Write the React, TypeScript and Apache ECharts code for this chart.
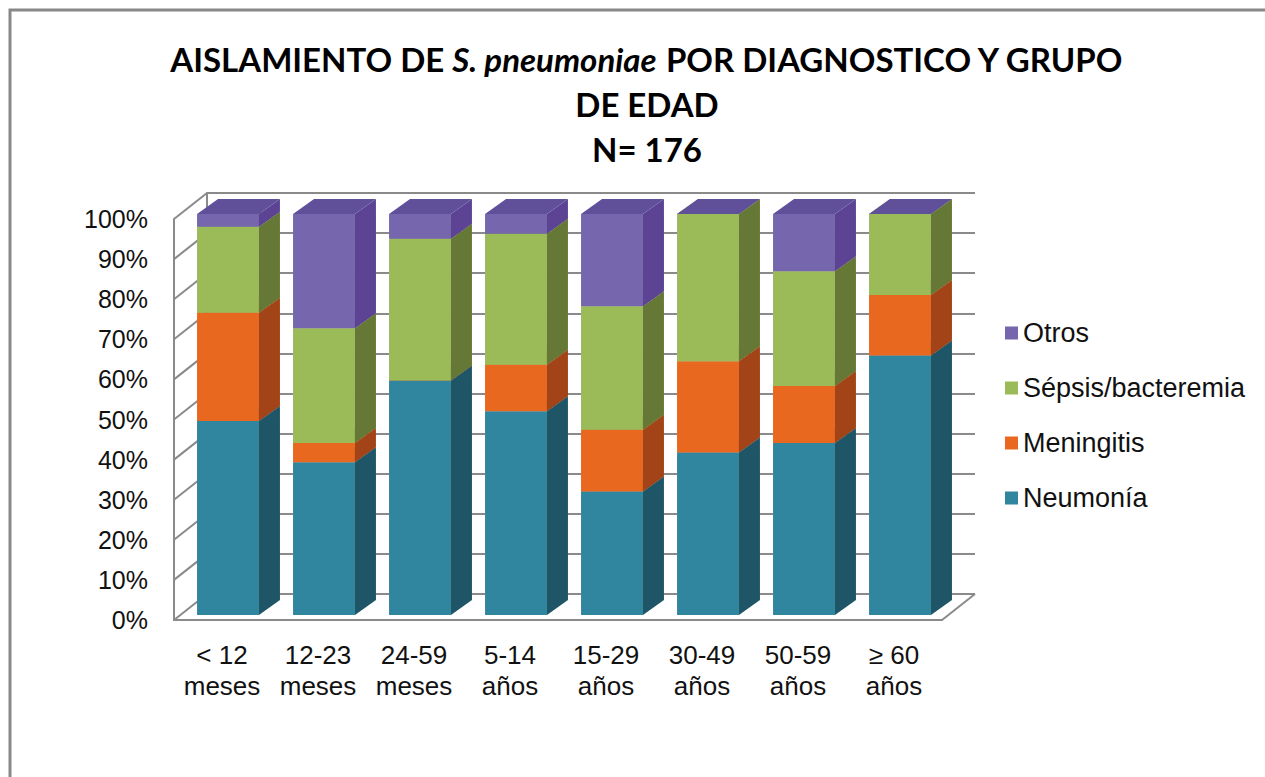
import React, { useEffect, useRef } from "react";
import * as echarts from "echarts";

const categories = ["< 12\nmeses", "12-23\nmeses", "24-59\nmeses", "5-14\naños", "15-29\naños", "30-49\naños", "50-59\naños", "≥ 60\naños"];
const neumonia = [48.4, 38.1, 58.5, 50.8, 30.8, 40.5, 42.9, 64.7];
const meningitis = [27.0, 4.8, 0, 11.6, 15.4, 22.8, 14.2, 15.1];
const sepsis = [21.4, 28.6, 35.3, 32.7, 30.8, 36.7, 28.6, 20.2];
const otros = [3.2, 28.5, 6.2, 4.9, 23.0, 0, 14.3, 0];
const yTicks = [0, 10, 20, 30, 40, 50, 60, 70, 80, 90, 100];

const seriesDefs = [
  { name: "Neumonía", values: neumonia, front: "#2F869E", side: "#1F5667", top: "#28758A" },
  { name: "Meningitis", values: meningitis, front: "#E9681F", side: "#A34418", top: "#C8591B" },
  { name: "Sépsis/bacteremia", values: sepsis, front: "#9BBB59", side: "#667836", top: "#83A04A" },
  { name: "Otros", values: otros, front: "#7566AD", side: "#5C4394", top: "#60509A" },
];

const BAR_FRAC = 0.645;
const OFF_X = 6;
const OFF_Y = -5;
const SIDE_DX = 21;
const SIDE_DY = -15;
const WALL_DX = 33;
const WALL_DY = -26;
const GRID_COLOR = "#8A8A8A";
const FONT = "'Liberation Sans', Arial, sans-serif";

export default function App() {
  const ref = useRef<HTMLDivElement>(null);
  useEffect(() => {
    if (!ref.current) return;
    const chart = echarts.init(ref.current, null, { renderer: "svg" });

    const stacked: any[] = [];
    const base = categories.map(() => 0);
    seriesDefs.forEach((s) => {
      const data = s.values.map((v, i) => {
        const lo = base[i];
        const hi = lo + v;
        base[i] = hi;
        return [i, lo, hi];
      });
      stacked.push({
        type: "custom",
        name: s.name,
        xAxisIndex: 0,
        yAxisIndex: 0,
        z: 3,
        itemStyle: { color: s.front },
        data,
        renderItem: (params: any, api: any) => {
          const ci = api.value(0);
          const lo = api.value(1);
          const hi = api.value(2);
          const pLo = api.coord([ci, lo]);
          const pHi = api.coord([ci, hi]);
          const bw = api.size([1, 0])[0] * BAR_FRAC;
          const x0 = pLo[0] - bw / 2 + OFF_X;
          const yb = pLo[1] + OFF_Y;
          const yt = pHi[1] + OFF_Y;
          const x1 = x0 + bw;
          return {
            type: "group",
            children: [
              {
                type: "rect",
                shape: { x: x0, y: yt, width: bw, height: yb - yt },
                style: { fill: s.front },
              },
              {
                type: "polygon",
                shape: { points: [[x1, yb], [x1 + SIDE_DX, yb + SIDE_DY], [x1 + SIDE_DX, yt + SIDE_DY], [x1, yt]] },
                style: { fill: s.side },
              },
              {
                type: "polygon",
                shape: { points: [[x0, yt], [x0 + SIDE_DX, yt + SIDE_DY], [x1 + SIDE_DX, yt + SIDE_DY], [x1, yt]] },
                style: { fill: s.top },
              },
            ],
          };
        },
      });
    });

    const wallSeries = {
      type: "custom",
      name: "wall",
      xAxisIndex: 0,
      yAxisIndex: 0,
      z: 1,
      silent: true,
      data: yTicks.map((t) => [0, t]),
      renderItem: (params: any, api: any) => {
        const p = api.coord([api.value(0), api.value(1)]);
        const half = api.size([1, 0])[0] / 2;
        const xl = p[0] - half;
        return {
          type: "line",
          shape: { x1: xl, y1: p[1], x2: xl + WALL_DX, y2: p[1] + WALL_DY },
          style: { stroke: GRID_COLOR, lineWidth: 2 },
        };
      },
    };

    const floorSeries = {
      type: "custom",
      name: "floor",
      xAxisIndex: 0,
      yAxisIndex: 0,
      z: 1,
      silent: true,
      data: [[categories.length - 1, 0]],
      renderItem: (params: any, api: any) => {
        const p = api.coord([api.value(0), api.value(1)]);
        const half = api.size([1, 0])[0] / 2;
        const xr = p[0] + half;
        return {
          type: "line",
          shape: { x1: xr, y1: p[1], x2: xr + WALL_DX, y2: p[1] + WALL_DY },
          style: { stroke: GRID_COLOR, lineWidth: 2 },
        };
      },
    };

    chart.setOption({
      animation: false,
      backgroundColor: "#ffffff",
      title: {
        left: 642,
        top: 31,
        textAlign: "center",
        text: "AISLAMIENTO DE {i|S. pneumoniae} POR DIAGNOSTICO Y GRUPO\nDE EDAD\nN= 176",
        textStyle: {
          fontFamily: "Lato, sans-serif",
          fontWeight: "bold",
          fontSize: 33,
          lineHeight: 45,
          color: "#000",
          rich: {
            i: {
              fontFamily: "Lato, sans-serif",
              fontWeight: "bold",
              fontStyle: "italic",
              fontSize: 33,
              lineHeight: 45,
              color: "#000",
            },
          },
        },
      },
      legend: {
        orient: "vertical",
        left: 1000,
        top: 314,
        itemWidth: 13,
        itemHeight: 13,
        itemGap: 27,
        icon: "rect",
        data: ["Otros", "Sépsis/bacteremia", "Meningitis", "Neumonía"],
        textStyle: { fontFamily: FONT, fontSize: 27, lineHeight: 28, color: "#111" },
        selectedMode: false,
      },
      graphic: [
        {
          type: "rect",
          shape: { x: 10, y: 10, width: 1400, height: 900 },
          style: { fill: "none", stroke: "#888888", lineWidth: 3 },
          silent: true,
        },
      ],
      grid: [
        { left: 174, right: 323, top: 219, bottom: 157 },
        { left: 207, right: 290, top: 193, bottom: 183 },
      ],
      xAxis: [
        {
          type: "category",
          gridIndex: 0,
          data: categories,
          axisLine: { show: true, lineStyle: { color: GRID_COLOR, width: 2 } },
          axisTick: { show: false },
          axisLabel: { fontFamily: FONT, fontSize: 26, lineHeight: 31, color: "#111", margin: 19, interval: 0 },
          splitLine: { show: false },
        },
        { type: "category", gridIndex: 1, data: categories, show: false },
      ],
      yAxis: [
        {
          type: "value",
          gridIndex: 0,
          min: 0,
          max: 100,
          interval: 10,
          axisLine: { show: true, lineStyle: { color: GRID_COLOR, width: 2 } },
          axisTick: { show: false },
          splitLine: { show: false },
          axisLabel: { formatter: "{value}%", fontFamily: FONT, fontSize: 25, color: "#111", margin: 26 },
        },
        {
          type: "value",
          gridIndex: 1,
          min: 0,
          max: 100,
          interval: 10,
          axisLine: { show: true, lineStyle: { color: GRID_COLOR, width: 2 } },
          axisTick: { show: false },
          axisLabel: { show: false },
          splitLine: { show: true, lineStyle: { color: GRID_COLOR, width: 2 } },
        },
      ],
      series: [wallSeries, floorSeries, ...stacked],
    });
    return () => chart.dispose();
  }, []);
  return <div ref={ref} style={{ position: "fixed", left: 0, top: 0, width: 1265, height: 777 }} />;
}
